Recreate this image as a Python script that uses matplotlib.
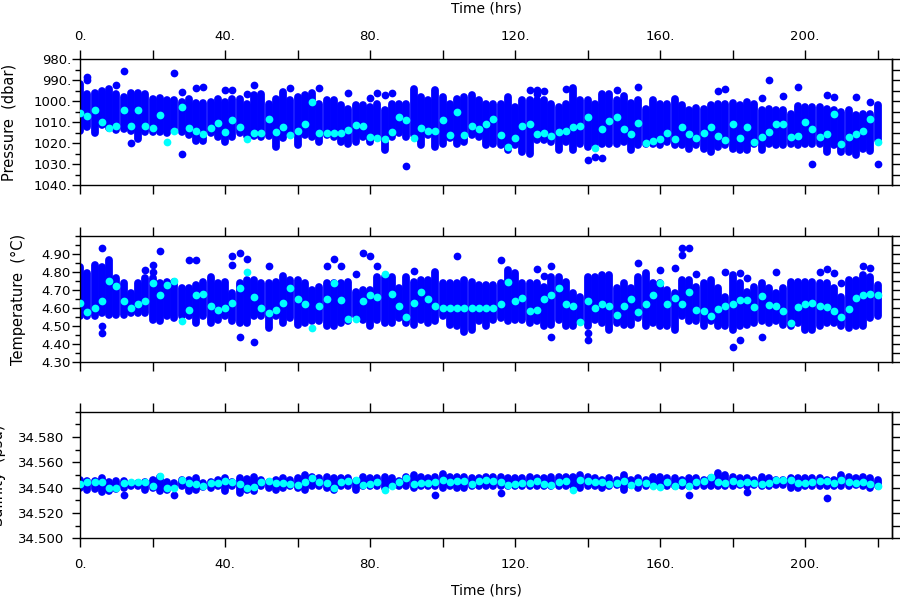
import matplotlib
matplotlib.use("Agg")
import matplotlib.pyplot as plt
from matplotlib.ticker import MultipleLocator, FixedLocator, FuncFormatter, NullFormatter

# sample times (hrs), one column of observations every 2 hours
hours = list(range(0, 222, 2))

# ---- pressure (dbar): extent of each column, column mean, stray points ----
pres_lo = [992, 996.4, 996, 995, 994, 996.4, 998, 996, 996, 996.4,
           998.8, 998.5, 999.6, 999.6, 1000.4, 998.8, 1000.9, 1001, 1000.4, 998.8,
           1000.4, 998.8, 998.8, 1001.2, 997.2, 996.4, 1001.2, 998.8, 995.6, 999.6,
           998, 997.2, 996, 1001.2, 999.6, 999.6, 1002, 1003.6, 1002, 1002,
           1002.8, 1001.2, 1004.4, 1001.2, 1001.2, 1001.2, 994, 998, 999.6, 994.5,
           998, 1001.2, 998.8, 998, 997.2, 999.6, 1001.2, 1001.2, 1001.2, 998,
           1002.8, 999.6, 999.6, 999.6, 999.6, 1001.2, 1002.8, 1001.2, 993.7, 999.6,
           999.6, 1001.2, 996.4, 996.7, 999.6, 997.7, 1001, 999.6, 1003.6, 999.6,
           1001.2, 1001.2, 998.8, 1002, 1004.1, 1003.1, 1003.6, 1002, 1001.2, 1001.2,
           1001, 1002, 1000.4, 1001.2, 1004.1, 1003.6, 1004.4, 1004.4, 1006, 1002.5,
           1002.8, 1002.8, 1002.8, 1003.6, 1004.4, 1005.2, 1004.4, 1006.8, 1006, 1006,
           1002]
pres_hi = [1014, 1012.2, 1015, 1011.5, 1013, 1013.8, 1013.5, 1014, 1018, 1014.6,
           1014.6, 1014.6, 1015.4, 1013, 1014.6, 1016.2, 1018.9, 1019, 1015.4, 1017,
           1019.4, 1017, 1015.4, 1016.7, 1016.7, 1017, 1016.7, 1022, 1017.8, 1015.4,
           1021, 1016.2, 1017, 1019.4, 1016.2, 1017, 1019.4, 1020.2, 1019.4, 1017,
           1019.4, 1017, 1023.4, 1017, 1015.4, 1017, 1016.2, 1021, 1016.2, 1021.8,
           1020.2, 1017.8, 1020.2, 1019.4, 1016.2, 1017, 1021, 1020.2, 1021, 1023.4,
           1021, 1024.2, 1025, 1018.6, 1018.6, 1019.4, 1023.4, 1019.4, 1023.4, 1020.2,
           1021.8, 1020.2, 1020.2, 1020.2, 1020.2, 1019.4, 1023.4, 1021, 1020.2, 1020.2,
           1021, 1019.4, 1021, 1021, 1022.6, 1021, 1022.6, 1024.2, 1021.8, 1021,
           1022.6, 1023.4, 1023.4, 1020.2, 1023.4, 1020.2, 1021, 1021, 1020.2, 1021,
           1020.2, 1020.2, 1020.2, 1024.2, 1021, 1024.2, 1024.2, 1025.8, 1022.6, 1023.7,
           1018.6]
pres_mean = [1005.5, 1007, 1004, 1010, 1013, 1012, 1004, 1011.7, 1004, 1012,
             1013, 1006.7, 1019.5, 1014, 1002.7, 1013, 1014.4, 1015.8, 1013, 1010.4,
             1014.7, 1009, 1012.3, 1018, 1015, 1015, 1008.6, 1014.7, 1012.3, 1016.3,
             1014, 1011, 1000.3, 1015.2, 1015, 1015, 1015, 1013.6, 1011.5, 1012,
             1017.1, 1017.4, 1017.9, 1014.7, 1007.5, 1009, 1017.4, 1013, 1014, 1014.4,
             1009.1, 1016.3, 1005.1, 1016.3, 1012, 1013.1, 1011, 1008.6, 1016.3, 1021.9,
             1017.4, 1012, 1011, 1015.5, 1015.2, 1016.8, 1014.7, 1014.2, 1012.3, 1012,
             1007.5, 1022.2, 1013.1, 1009.4, 1007.5, 1013.1, 1015.5, 1010.4, 1020, 1019,
             1017.9, 1015.2, 1017.9, 1012.3, 1015.5, 1017.4, 1015.2, 1012.3, 1016.8, 1018.7,
             1010.7, 1017.4, 1012.3, 1019.5, 1017.1, 1014.7, 1011, 1010.7, 1017.1, 1016.8,
             1009.9, 1013.1, 1017.1, 1015.5, 1005.9, 1020.3, 1017.1, 1015.5, 1014.2, 1008.3,
             1019.5]
pres_extra = [(2, 988.3), (2, 989.9), (10, 992.3), (12, 985.6), (14, 1020), (26, 986.4),
              (28, 995.5), (28, 1025.1), (32, 993.6), (34, 993.1), (40, 994.7), (42, 994.7),
              (46, 996.8), (48, 992.3), (58, 993.9), (66, 993.9), (74, 996), (80, 998.7),
              (82, 996.3), (84, 997.1), (86, 996.3), (90, 1030.7), (124, 994.7), (126, 994.7),
              (126, 996.6), (128, 995), (134, 994.4), (140, 1028), (142, 1026.4), (144, 1026.9),
              (148, 994.7), (154, 993.1), (176, 995), (178, 994.4), (188, 998.7), (190, 989.9),
              (194, 997.6), (198, 993.1), (202, 1029.9), (206, 997.1), (208, 998.2),
              (214, 997.9), (218, 1000.3), (220, 1030.2)]

# ---- temperature (deg C) ----
temp_lo = [4.554, 4.554, 4.554, 4.572, 4.563, 4.563, 4.563, 4.572, 4.572, 4.572,
           4.535, 4.526, 4.554, 4.544, 4.554, 4.554, 4.517, 4.554, 4.517, 4.535,
           4.554, 4.526, 4.517, 4.517, 4.554, 4.554, 4.489, 4.554, 4.517, 4.544,
           4.507, 4.517, 4.526, 4.526, 4.498, 4.498, 4.517, 4.526, 4.554, 4.535,
           4.498, 4.535, 4.517, 4.517, 4.544, 4.517, 4.507, 4.535, 4.517, 4.526,
           4.554, 4.507, 4.498, 4.47, 4.48, 4.526, 4.498, 4.535, 4.544, 4.526,
           4.535, 4.535, 4.517, 4.526, 4.498, 4.507, 4.535, 4.498, 4.498, 4.526,
           4.498, 4.535, 4.517, 4.48, 4.517, 4.507, 4.507, 4.544, 4.498, 4.517,
           4.498, 4.498, 4.48, 4.554, 4.526, 4.526, 4.498, 4.526, 4.498, 4.498,
           4.48, 4.498, 4.507, 4.517, 4.526, 4.517, 4.526, 4.507, 4.498, 4.517,
           4.48, 4.48, 4.498, 4.517, 4.517, 4.498, 4.489, 4.498, 4.498, 4.544,
           4.554]
temp_hi = [4.829, 4.793, 4.84, 4.829, 4.866, 4.765, 4.737, 4.681, 4.737, 4.765,
           4.765, 4.737, 4.746, 4.746, 4.709, 4.709, 4.728, 4.746, 4.774, 4.737,
           4.746, 4.681, 4.737, 4.756, 4.756, 4.737, 4.737, 4.746, 4.778, 4.756,
           4.756, 4.737, 4.70, 4.719, 4.737, 4.737, 4.737, 4.746, 4.691, 4.70,
           4.70, 4.774, 4.774, 4.774, 4.709, 4.774, 4.746, 4.756, 4.756, 4.80,
           4.737, 4.737, 4.737, 4.756, 4.746, 4.728, 4.728, 4.728, 4.737, 4.81,
           4.793, 4.737, 4.737, 4.737, 4.719, 4.774, 4.774, 4.746, 4.681, 4.663,
           4.774, 4.774, 4.783, 4.783, 4.709, 4.737, 4.709, 4.774, 4.793, 4.741,
           4.737, 4.70, 4.681, 4.756, 4.756, 4.719, 4.737, 4.756, 4.709, 4.663,
           4.783, 4.737, 4.691, 4.719, 4.737, 4.709, 4.681, 4.709, 4.746, 4.746,
           4.746, 4.746, 4.737, 4.737, 4.709, 4.663, 4.756, 4.756, 4.783, 4.774,
           4.728]
temp_mean = [4.63, 4.58, 4.60, 4.64, 4.75, 4.72, 4.64, 4.60, 4.62, 4.64,
             4.74, 4.67, 4.73, 4.75, 4.53, 4.59, 4.67, 4.68, 4.61, 4.59,
             4.60, 4.63, 4.71, 4.80, 4.66, 4.60, 4.57, 4.59, 4.63, 4.71,
             4.65, 4.624, 4.49, 4.61, 4.65, 4.74, 4.645, 4.54, 4.54, 4.64,
             4.67, 4.66, 4.79, 4.68, 4.61, 4.55, 4.63, 4.69, 4.65, 4.61,
             4.60, 4.60, 4.60, 4.60, 4.60, 4.60, 4.60, 4.60, 4.62, 4.745,
             4.64, 4.655, 4.585, 4.59, 4.65, 4.67, 4.71, 4.62, 4.61, 4.525,
             4.64, 4.60, 4.623, 4.61, 4.56, 4.61, 4.65, 4.58, 4.62, 4.67,
             4.74, 4.62, 4.655, 4.62, 4.69, 4.59, 4.585, 4.557, 4.594, 4.61,
             4.62, 4.645, 4.645, 4.605, 4.664, 4.618, 4.61, 4.584, 4.516, 4.605,
             4.62, 4.63, 4.61, 4.605, 4.586, 4.553, 4.594, 4.655, 4.673, 4.679,
             4.673]
temp_extra = [(6, 4.932), (6, 4.501), (6, 4.461), (18, 4.808), (20, 4.839), (20, 4.802),
              (22, 4.913), (30, 4.867), (32, 4.867), (42, 4.885), (42, 4.839), (44, 4.904),
              (44, 4.439), (46, 4.871), (48, 4.414), (52, 4.834), (68, 4.83), (70, 4.871),
              (72, 4.834), (76, 4.79), (78, 4.904), (80, 4.889), (82, 4.83), (92, 4.806),
              (104, 4.885), (116, 4.863), (126, 4.815), (128, 4.775), (130, 4.834),
              (130, 4.438), (140, 4.461), (140, 4.424), (154, 4.848), (160, 4.812),
              (164, 4.821), (166, 4.932), (166, 4.895), (168, 4.932), (170, 4.79),
              (178, 4.802), (180, 4.387), (182, 4.793), (182, 4.424), (184, 4.765),
              (188, 4.438), (192, 4.797), (204, 4.797), (206, 4.815), (208, 4.793),
              (210, 4.741), (216, 4.83), (218, 4.821)]

# ---- salinity (psu) ----
sal_lo = [34.5398, 34.5384, 34.539, 34.5366, 34.5371, 34.539, 34.5398, 34.5411, 34.5411, 34.5384,
          34.5398, 34.5371, 34.5384, 34.5411, 34.5411, 34.5371, 34.5384, 34.5403, 34.5398, 34.5411,
          34.5377, 34.5411, 34.5358, 34.5384, 34.5377, 34.5411, 34.5398, 34.5384, 34.5398, 34.5411,
          34.5398, 34.5384, 34.5411, 34.5411, 34.5398, 34.5384, 34.5411, 34.5411, 34.5384, 34.5411,
          34.5411, 34.5411, 34.5398, 34.5424, 34.5411, 34.5411, 34.5398, 34.5411, 34.5411, 34.5411,
          34.5398, 34.5411, 34.5398, 34.5398, 34.5411, 34.5411, 34.5411, 34.5411, 34.5411, 34.5411,
          34.5411, 34.5411, 34.5411, 34.5411, 34.5411, 34.5411, 34.5411, 34.5411, 34.5411, 34.5398,
          34.5411, 34.5411, 34.5398, 34.5411, 34.5424, 34.5384, 34.5424, 34.5398, 34.5411, 34.5424,
          34.5411, 34.5411, 34.5411, 34.5411, 34.5411, 34.5411, 34.5411, 34.5411, 34.5411, 34.5411,
          34.5411, 34.5424, 34.5411, 34.5424, 34.5411, 34.5411, 34.5424, 34.5424, 34.5398, 34.5398,
          34.5411, 34.5411, 34.5411, 34.5411, 34.5411, 34.5411, 34.5411, 34.5424, 34.5411, 34.5398,
          34.5411]
sal_hi = [34.546, 34.5453, 34.5453, 34.5474, 34.5447, 34.5453, 34.5453, 34.5426, 34.5434, 34.5447,
          34.546, 34.5487, 34.5447, 34.5434, 34.546, 34.546, 34.5474, 34.5434, 34.5447, 34.546,
          34.5474, 34.5447, 34.5474, 34.5466, 34.5487, 34.546, 34.5447, 34.546, 34.5474, 34.546,
          34.5474, 34.55, 34.5487, 34.5474, 34.5487, 34.5474, 34.5474, 34.5474, 34.5455, 34.5487,
          34.5474, 34.5474, 34.5487, 34.5474, 34.5455, 34.5487, 34.55, 34.5487, 34.5474, 34.5487,
          34.5508, 34.5487, 34.5487, 34.5487, 34.5474, 34.5474, 34.5487, 34.5487, 34.5487, 34.5474,
          34.5474, 34.5474, 34.5487, 34.5474, 34.5474, 34.5487, 34.5487, 34.5487, 34.5487, 34.55,
          34.5487, 34.5474, 34.5461, 34.5474, 34.5461, 34.55, 34.5461, 34.5474, 34.5461, 34.5487,
          34.5487, 34.5474, 34.5474, 34.5461, 34.5474, 34.5474, 34.5461, 34.5474, 34.5519, 34.55,
          34.5487, 34.5474, 34.5474, 34.5461, 34.5487, 34.5474, 34.5461, 34.5461, 34.5474, 34.5474,
          34.5474, 34.5474, 34.5474, 34.5461, 34.5461, 34.55, 34.5487, 34.5474, 34.5487, 34.5474,
          34.5461]
sal_mean = [34.5428, 34.5444, 34.5444, 34.5444, 34.5396, 34.5396, 34.5436, 34.5444, 34.5444, 34.5444,
            34.5417, 34.5494, 34.5401, 34.5401, 34.5457, 34.5436, 34.5428, 34.5417, 34.5436, 34.5436,
            34.5449, 34.5444, 34.5428, 34.5401, 34.5409, 34.5444, 34.5454, 34.5436, 34.5436, 34.5428,
            34.5422, 34.5441, 34.5475, 34.5441, 34.5436, 34.5396, 34.5441, 34.5449, 34.5457, 34.5422,
            34.543, 34.5441, 34.5383, 34.5415, 34.5441, 34.5475, 34.543, 34.5436, 34.5436, 34.5441,
            34.5457, 34.5441, 34.5449, 34.5449, 34.543, 34.5449, 34.5457, 34.5449, 34.5441, 34.5422,
            34.543, 34.5436, 34.5436, 34.5449, 34.543, 34.5422, 34.5441, 34.5449, 34.5378, 34.5462,
            34.5449, 34.5441, 34.5441, 34.543, 34.5436, 34.5449, 34.5422, 34.5441, 34.5436, 34.5415,
            34.5404, 34.5441, 34.5415, 34.5441, 34.5415, 34.5441, 34.5449, 34.5483, 34.5441, 34.5436,
            34.5449, 34.5436, 34.5441, 34.5436, 34.543, 34.5436, 34.5457, 34.5457, 34.5462, 34.5436,
            34.5436, 34.5441, 34.5449, 34.5449, 34.5436, 34.5457, 34.5441, 34.5436, 34.5441, 34.543,
            34.5415]
sal_extra = [(12, 34.5343), (26, 34.5343), (98, 34.5343), (116, 34.5356), (168, 34.5343),
             (184, 34.5362), (206, 34.5317)]

BLUE = "#0000ff"
CYAN = "#00ffff"
W, H = 900, 600

fig = plt.figure(figsize=(9, 6), dpi=100)


def add_panel(top, bottom):
    # frame given in pixels from the top-left corner
    return fig.add_axes([80 / W, 1 - bottom / H, 812 / W, (bottom - top) / H])


def xfmt(v, pos):
    return f"{v:.0f}." if round(v) % 40 == 0 else ""


def draw(ax, lo, hi, mean, extra, ylim, majors, step, fmt, ypad):
    ax.vlines(hours, lo, hi, colors=BLUE, linewidth=5.6, capstyle="round", zorder=2)
    et, ev = zip(*extra)
    ax.scatter(et, ev, s=31, color=BLUE, linewidths=0, zorder=2)
    ax.scatter(hours, mean, s=31, color=CYAN, linewidths=0, zorder=3)
    ax.set_xlim(0, 224)
    ax.set_ylim(*ylim)
    ax.xaxis.set_major_locator(MultipleLocator(20))
    ax.xaxis.set_major_formatter(FuncFormatter(xfmt))
    ax.yaxis.set_major_locator(FixedLocator(majors))
    ax.yaxis.set_minor_locator(MultipleLocator(step))
    ax.yaxis.set_major_formatter(FuncFormatter(fmt))
    ax.tick_params(axis="both", which="both", direction="out", width=1.0,
                   colors="black", labelsize=9.5)
    ax.tick_params(axis="x", length=6.5, top=True, bottom=True,
                   labeltop=False, labelbottom=False)
    ax.tick_params(axis="y", which="major", length=5.5, left=True, right=False, pad=ypad)
    ax.tick_params(axis="y", which="minor", length=3.5, left=True, right=False)
    for s in ax.spines.values():
        s.set_linewidth(1.0)
    sec = ax.secondary_yaxis("right")
    sec.yaxis.set_major_locator(MultipleLocator(step))
    sec.yaxis.set_major_formatter(NullFormatter())
    sec.tick_params(direction="out", length=5.5, width=1.0)
    sec.spines["right"].set_linewidth(1.0)


ax1 = add_panel(59.3, 185)
draw(ax1, pres_lo, pres_hi, pres_mean, pres_extra, (1040, 980),
     [980, 990, 1000, 1010, 1020, 1030, 1040], 5, lambda v, p: f"{v:.0f}.", 1)
ax1.tick_params(axis="x", labeltop=True, pad=5)

ax2 = add_panel(235.7, 362.3)
draw(ax2, temp_lo, temp_hi, temp_mean, temp_extra, (4.30, 5.00),
     [4.3, 4.4, 4.5, 4.6, 4.7, 4.8, 4.9], 0.05, lambda v, p: f"{v:.2f}", 1)

ax3 = add_panel(411.7, 538.3)
draw(ax3, sal_lo, sal_hi, sal_mean, sal_extra, (34.50, 34.60),
     [34.50, 34.52, 34.54, 34.56, 34.58], 0.01, lambda v, p: f"{v:.3f}", 6)
ax3.tick_params(axis="x", labelbottom=True, pad=8)

fig.text(486 / W, 1 - 9 / H, "Time (hrs)", ha="center", va="center", fontsize=10)
fig.text(486 / W, 1 - 590 / H, "Time (hrs)", ha="center", va="center", fontsize=10)
fig.text(9 / W, 1 - 122 / H, "Pressure  (dbar)", rotation=90,
         ha="center", va="center", fontsize=10.5)
fig.text(18.5 / W, 1 - 299 / H, "Temperature  (°C)", rotation=90,
         ha="center", va="center", fontsize=10.5)
# the reference draws this label partly beyond the left edge of the figure
fig.text(-1 / W, 1 - 475 / H, "Salinity  (psu)", rotation=90,
         ha="center", va="center", fontsize=10.5)

fig.savefig("out.png", dpi=100)
